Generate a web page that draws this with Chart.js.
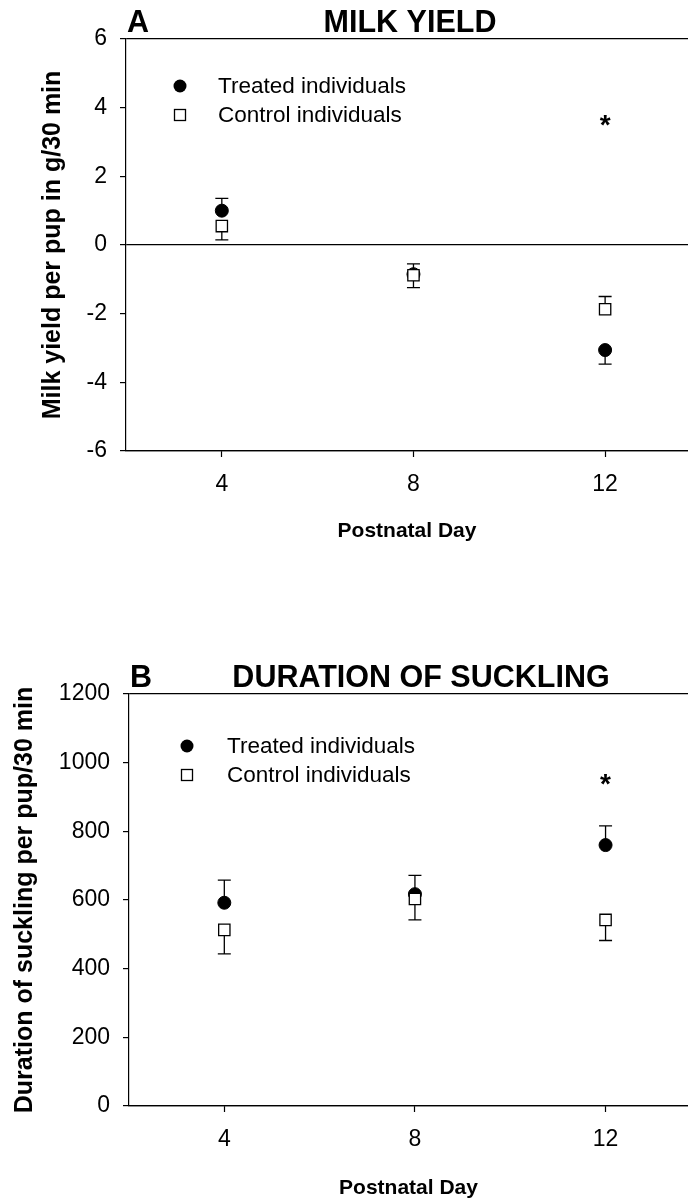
<!DOCTYPE html>
<html>
<head>
<meta charset="utf-8">
<script src="https://cdn.jsdelivr.net/npm/chart.js@4.4.1/dist/chart.umd.min.js"></script>
<style>
  html, body { margin: 0; padding: 0; background: #fff; overflow: hidden; }
  #wrap { position: relative; width: 688px; height: 1204px; }
  canvas { position: absolute; left: 0; }
  #milk { top: 0; }
  #suck { top: 600px; }
</style>
</head>
<body>
<div id="wrap">
  <canvas id="milk" width="688" height="600"></canvas>
  <canvas id="suck" width="688" height="604"></canvas>
</div>
<script>
// ---- data ----
const days = [4, 8, 12];
const dayTicks = [4, 8, 12];
const seriesNames = ['Treated individuals', 'Control individuals'];

// Panel A: milk yield per pup (g/30 min), mean and SE
const milkTreated   = [1.0, -0.85, -3.06];
const milkTreatedSE = [0.36, 0.30, 0.41];
const milkControl   = [0.55, -0.88, -1.87];
const milkControlSE = [0.40, 0.36, 0.37];
const milkTicks = [-6, -4, -2, 0, 2, 4, 6];
const milkStarDays = [12];
const milkStarY = [3.6];

// Panel B: duration of suckling per pup (per 30 min), mean and SE
const suckTreated   = [592, 617, 760];
const suckTreatedSE = [66, 55, 56];
const suckControl   = [513, 603, 542];
const suckControlSE = [70, 61, 60];
const suckTicks = [0, 200, 400, 600, 800, 1000, 1200];
const suckStarDays = [12];
const suckStarY = [950];

const FONT = "'Liberation Sans', Arial, Helvetica, sans-serif";

// error bars point away from the other group's mean
function directions(a, b) { return a.map((v, i) => (v >= b[i] ? 1 : -1)); }

const errorBars = {
  id: 'errorBars',
  beforeDatasetsDraw(chart) {
    const { ctx, scales: { x, y } } = chart;
    ctx.save();
    ctx.strokeStyle = '#000';
    ctx.lineWidth = 1.3;
    chart.data.datasets.forEach((ds) => {
      ds.data.forEach((p, i) => {
        const px = x.getPixelForValue(p.x);
        const py = y.getPixelForValue(p.y);
        const pe = y.getPixelForValue(p.y + ds.errDir[i] * ds.errors[i]);
        ctx.beginPath();
        ctx.moveTo(px, py);
        ctx.lineTo(px, pe);
        ctx.moveTo(px - 6.5, pe);
        ctx.lineTo(px + 6.5, pe);
        ctx.stroke();
      });
    });
    ctx.restore();
  }
};

const panelDecor = {
  id: 'panelDecor',
  afterDraw(chart, args, o) {
    const { ctx, scales: { x, y } } = chart;
    ctx.save();
    ctx.fillStyle = '#000';
    // heading
    ctx.font = 'bold 30.5px ' + FONT;
    ctx.textBaseline = 'alphabetic';
    ctx.textAlign = 'left';
    ctx.fillText(o.letter, o.letterX, o.headY);
    ctx.textAlign = 'center';
    ctx.fillText(o.title, o.titleX, o.headY);
    // significance marks
    ctx.font = 'bold 28px ' + FONT;
    o.starDays.forEach((d, i) => {
      ctx.fillText('*', x.getPixelForValue(d), y.getPixelForValue(o.starY[i]) + 13);
    });
    // legend
    const ds = chart.data.datasets;
    ctx.font = '22.5px ' + FONT;
    ctx.textAlign = 'left';
    ctx.textBaseline = 'middle';
    const rows = [ds.find(d => d.label === seriesNames[0]), ds.find(d => d.label === seriesNames[1])];
    rows.forEach((d, i) => {
      const cy = o.legendY + i * o.legendGap;
      ctx.lineWidth = 1.3;
      ctx.strokeStyle = '#000';
      if (d.pointStyle === 'circle') {
        ctx.beginPath();
        ctx.arc(o.legendX, cy, 6.5, 0, Math.PI * 2);
        ctx.fillStyle = '#000';
        ctx.fill();
      } else {
        ctx.fillStyle = '#fff';
        ctx.fillRect(o.legendX - 5.5, cy - 5.5, 11, 11);
        ctx.strokeRect(o.legendX - 5.5, cy - 5.5, 11, 11);
      }
      ctx.fillStyle = '#000';
      ctx.fillText(d.label, o.textX, cy + 1);
    });
    ctx.restore();
  }
};

function makePanel(id, p) {
  const tDir = directions(p.treated, p.control);
  const cDir = tDir.map(v => -v);
  const edge = (v) => v === p.ticks[0] || v === p.ticks[p.ticks.length - 1] || v === 0;
  return new Chart(document.getElementById(id), {
    type: 'scatter',
    data: {
      datasets: [
        {
          label: seriesNames[1],
          data: days.map((d, i) => ({ x: d, y: p.control[i] })),
          errors: p.controlSE, errDir: cDir,
          pointStyle: 'rect', pointRadius: 8, pointHoverRadius: 8,
          backgroundColor: '#fff', borderColor: '#000', borderWidth: 1.3,
          order: 0
        },
        {
          label: seriesNames[0],
          data: days.map((d, i) => ({ x: d, y: p.treated[i] })),
          errors: p.treatedSE, errDir: tDir,
          pointStyle: 'circle', pointRadius: 6.5, pointHoverRadius: 6.5,
          backgroundColor: '#000', borderColor: '#000', borderWidth: 1,
          order: 1
        }
      ]
    },
    options: {
      responsive: false,
      animation: false,
      events: [],
      layout: { autoPadding: false, padding: { top: p.areaTop, left: 0, right: 0, bottom: 0 } },
      plugins: {
        legend: { display: false },
        tooltip: { enabled: false },
        panelDecor: p.decor
      },
      scales: {
        x: {
          type: 'linear', min: 2, max: 13.73,
          afterBuildTicks: s => { s.ticks = dayTicks.map(v => ({ value: v })); },
          afterFit: s => { s.height = p.xHeight; s.paddingLeft = 0; s.paddingRight = 0; },
          ticks: { color: '#000', font: { family: FONT, size: 23 }, padding: 14, callback: v => String(v) },
          grid: { drawOnChartArea: false, tickLength: 6, tickColor: '#000', tickWidth: 1.2 },
          border: { color: '#000', width: 1.2 },
          title: {
            display: true, text: 'Postnatal Day', color: '#000',
            font: { family: FONT, size: 21, weight: 'bold' },
            padding: { top: 0, bottom: p.xTitlePad }
          }
        },
        y: {
          type: 'linear', min: p.ticks[0], max: p.ticks[p.ticks.length - 1],
          afterBuildTicks: s => { s.ticks = p.ticks.map(v => ({ value: v })); },
          afterFit: s => { s.width = p.areaLeft; },
          ticks: { color: '#000', font: { family: FONT, size: 23 }, padding: 13, callback: v => String(v) },
          grid: {
            color: c => (c.tick && edge(c.tick.value)) ? '#000' : 'rgba(0,0,0,0)',
            lineWidth: 1.2, tickLength: 6, tickColor: '#000', tickWidth: 1.2
          },
          border: { color: '#000', width: 1.2 },
          title: {
            display: true, text: p.yTitle, color: '#000',
            font: { family: FONT, size: 25, weight: 'bold' },
            padding: { top: p.yTitlePad, bottom: 0 }
          }
        }
      }
    },
    plugins: [errorBars, panelDecor]
  });
}

makePanel('milk', {
  treated: milkTreated, treatedSE: milkTreatedSE,
  control: milkControl, controlSE: milkControlSE,
  ticks: milkTicks,
  yTitle: 'Milk yield per pup in g/30 min',
  areaTop: 39, areaLeft: 126, xHeight: 149,
  xTitlePad: 56.4, yTitlePad: 38,
  decor: {
    letter: 'A', letterX: 127, title: 'MILK YIELD', titleX: 410, headY: 32,
    legendX: 180, legendY: 86, legendGap: 29, textX: 218,
    starDays: milkStarDays, starY: milkStarY
  }
});

makePanel('suck', {
  treated: suckTreated, treatedSE: suckTreatedSE,
  control: suckControl, controlSE: suckControlSE,
  ticks: suckTicks,
  yTitle: 'Duration of suckling per pup/30 min',
  areaTop: 94, areaLeft: 129, xHeight: 98,
  xTitlePad: 3.4, yTitlePad: 10,
  decor: {
    letter: 'B', letterX: 130, title: 'DURATION OF SUCKLING', titleX: 421, headY: 87,
    legendX: 187, legendY: 146, legendGap: 29, textX: 227,
    starDays: suckStarDays, starY: suckStarY
  }
});
</script>
</body>
</html>
